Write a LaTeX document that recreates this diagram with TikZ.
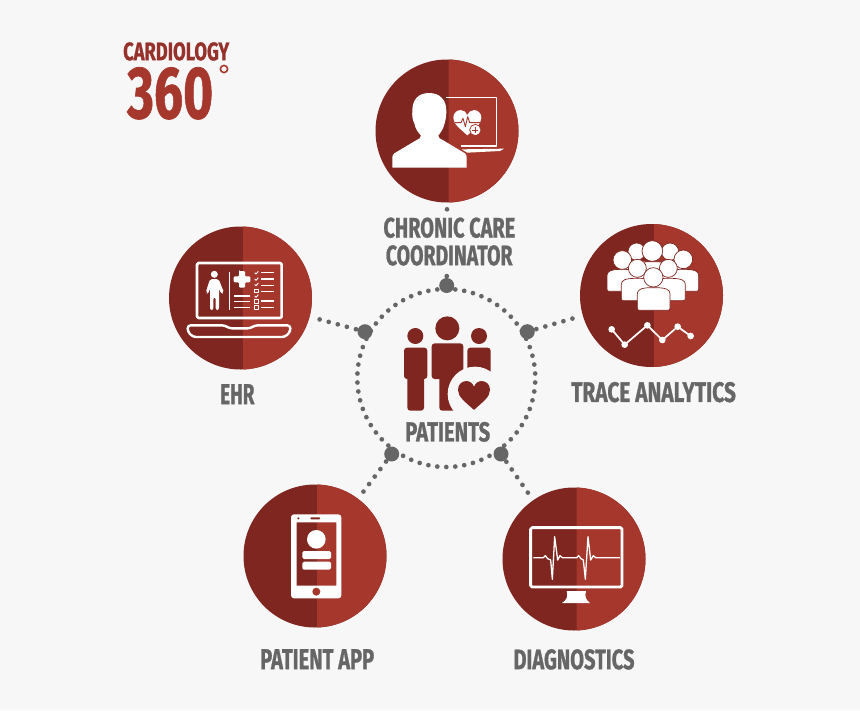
\documentclass[tikz,border=0pt]{standalone}
\usepackage{fontspec}
\usepackage{graphicx}
\usetikzlibrary{calc}
\setmainfont{Fira Sans}[BoldFeatures={FakeBold=1}]
\definecolor{bg}{HTML}{F7F7F7}
\definecolor{dk}{HTML}{7E261F}
\definecolor{lt}{HTML}{A5372D}
\definecolor{logo}{HTML}{96322B}
\definecolor{gr}{HTML}{666666}
\tikzset{
  lbl/.style={inner sep=0pt,anchor=north west,text=gr},
  bigdot/.style={circle,fill=gr,inner sep=0pt,minimum size=15pt},
  smalldot/.style={circle,fill=gr,inner sep=0pt,minimum size=4.7pt},
  conn/.style={draw=gr,line width=4.7pt,line cap=round,dash pattern=on 0pt off 9.4pt},
  disc/.style={circle,fill=dk,inner sep=0pt,minimum size=143pt},
  wl/.style={draw=white,line width=#1,line join=round},
  wl/.default=1.3pt
}
% label: name, x, y, width, height, text
\newcommand{\lab}[7][lbl]{\node[#1] (#2) at (#3,#4) {\resizebox{#5pt}{#6pt}{\bfseries #7}};}
% half-shaded disc: name, cx, cy, split x
\newcommand{\halfdisc}[4]{%
  \node[disc] (#1) at (#2,#3) {};
  \begin{scope}
    \clip (#4,#3-80) rectangle (#2+80,#3+80);
    \fill[lt] (#2,#3) circle (71.5);
  \end{scope}}
% heart: cx, cy, half width, colour
\newcommand{\hrt}[4]{%
  \fill[#4] (#1,#2+#3*.95)
    .. controls (#1-#3*.55,#2+#3*.45) and (#1-#3,#2+#3*.15) .. (#1-#3,#2-#3*.3)
    .. controls (#1-#3,#2-#3*.7) and (#1-#3*.7,#2-#3*.85) .. (#1-#3*.47,#2-#3*.85)
    .. controls (#1-#3*.25,#2-#3*.85) and (#1-#3*.08,#2-#3*.7) .. (#1,#2-#3*.5)
    .. controls (#1+#3*.08,#2-#3*.7) and (#1+#3*.25,#2-#3*.85) .. (#1+#3*.47,#2-#3*.85)
    .. controls (#1+#3*.7,#2-#3*.85) and (#1+#3,#2-#3*.7) .. (#1+#3,#2-#3*.3)
    .. controls (#1+#3,#2+#3*.15) and (#1+#3*.55,#2+#3*.45) .. (#1,#2+#3*.95) -- cycle;}
% crowd person: head x,y,r ; body left,right,top,bottom
\newcommand{\folk}[7]{%
  \filldraw[fill=white,draw=dk,line width=.7pt,rounded corners=2pt]
    (#4,#7) -- (#4,#6+24) .. controls (#4,#6+6) and (#4+12,#6) .. (#1,#6)
    .. controls (#5-12,#6) and (#5,#6+6) .. (#5,#6+24) -- (#5,#7) -- cycle;
  \filldraw[fill=white,draw=dk,line width=.7pt] (#1,#2) circle (#3);}
\begin{document}
\begin{tikzpicture}[x=1pt,y=-1pt]
\useasboundingbox (0,0) rectangle (860,710);
\fill[bg] (0,0) rectangle (860,710);

% ---- discs
\halfdisc{care}{447}{131}{448.7}
\halfdisc{ehr}{240.5}{298}{243}
\halfdisc{trace}{651.5}{295.5}{654}
\halfdisc{app}{315}{556}{317}
\halfdisc{diag}{574}{559}{576.5}

% ---- ring of dots
\coordinate (hub) at (446.3,378);
\foreach \i in {0,...,61}
  \fill[gr] ($(hub)+({-90+\i*5.80645}:89)$) circle (2.35);

% ---- big dots on the ring
\node[bigdot] (dT) at (446.7,285.5) {};
\node[bigdot] (dL) at (365,331.7) {};
\node[bigdot] (dR) at (527.3,331.7) {};
\node[bigdot] (dBL) at (391.7,454) {};
\node[bigdot] (dBR) at (501,454) {};

% ---- connectors
\coordinate (tEnd) at (446.8,272);
\node[smalldot] (tTip) at (447,209.3) {};
\draw[conn] (dT.center) -- (tEnd);
\draw[conn,shorten >=6pt] (dL.center) -- (ehr);
\draw[conn,shorten >=6pt] (dR.center) -- (trace);
\draw[conn,shorten >=4pt] (dBL.center) -- (app);
\draw[conn,shorten >=4pt] (dBR.center) -- (diag);

% ---- labels
\lab{lCare1}{383.3}{217.3}{131.7}{20}{CHRONIC CARE}
\lab{lCare2}{385.7}{245}{126.6}{20}{COORDINATOR}
\lab{lEhr}{220}{384}{34.3}{20}{EHR}
\lab{lTrace}{571}{381.7}{164.7}{20}{TRACE ANALYTICS}
\lab{lApp}{260}{649}{114}{20}{PATIENT APP}
\lab{lDiag}{513.3}{649}{121}{20}{DIAGNOSTICS}
\lab{lPat}{405}{421.7}{85}{19.5}{PATIENTS}
\lab[lbl,text=logo]{lCard}{123}{42}{106}{18}{CARDIOLOGY}
\lab[lbl,text=lt]{lNum}{127}{67}{86}{51}{360}
\draw[lt,line width=1.6pt] (224,69) circle (3.6);

% ---- icon: chronic care coordinator
\begin{scope}[shift={(360,70)},scale=1/3]
  \draw[wl=1.6pt] (258,82) -- (410,82) -- (410,228) -- (302,228);
  \fill[white] (305,238) -- (432,236) -- (420,243) -- (322,248) -- cycle;
  \fill[white] (207,69) .. controls (240,69) and (259,90) .. (259,122)
    .. controls (259,135) and (258,145) .. (254,160)
    .. controls (250,178) and (240,190) .. (235,197)
    .. controls (236,204) and (240,207) .. (248,210)
    -- (315,250) .. controls (319,254) and (320,258) .. (320,262) -- (320,293) -- (97,293) -- (97,262)
    .. controls (97,258) and (98,254) .. (103,250)
    -- (170,210) .. controls (178,207) and (182,204) .. (183,197)
    .. controls (177,190) and (166,178) .. (163,160)
    .. controls (157,150) and (156,135) .. (157,122)
    .. controls (157,90) and (174,69) .. (207,69) -- cycle;
  \hrt{322}{156}{42}{white}
  \draw[lt,line width=.9pt,line join=round] (284,158) -- (303,158) -- (309,145) -- (316,170) -- (323,140) -- (329,158) -- (360,158);
  \filldraw[fill=white,draw=lt,line width=.8pt] (346,180) circle (17);
  \draw[lt,line width=1pt] (346,171) -- (346,189) (337,180) -- (355,180);
\end{scope}

% ---- icon: EHR
\begin{scope}[shift={(160,220)},scale=1/3]
  \draw[wl=2.6pt,rounded corners=1.5pt] (111,129) rectangle (365,294);
  \draw[wl=2.4pt,rounded corners=3pt] (83,316) -- (195,316) -- (207,325) -- (272,325) -- (284,316) -- (391,316) -- (391,335) -- (375,351) -- (99,351) -- (83,335) -- cycle;
  \draw[wl=1pt] (209,155) -- (209,270);
  \fill[white] (163,163) circle (10.5);
  \fill[white,rounded corners=2pt] (150,177) -- (176,177) -- (192,218) -- (184,222) -- (177,205) -- (177,270) -- (167,270) -- (167,232) -- (160,232) -- (160,270) -- (150,270) -- (150,205) -- (144,222) -- (137,218) -- cycle;
  \fill[white,rounded corners=1pt] (237,153) -- (255,153) -- (255,169) -- (271,169) -- (271,187) -- (255,187) -- (255,203) -- (237,203) -- (237,187) -- (221,187) -- (221,169) -- (237,169) -- (237,153) -- cycle;
  \foreach \y in {158,177,196,215,243,262}
    \draw[wl=1.2pt] (303,\y) -- (343,\y);
  \foreach \y in {228,245,262}
    \draw[wl=1.2pt] (221,\y) -- (270,\y);
  \foreach \y in {158,177,193,228}
    \draw[wl=.9pt] (284,\y) -- (288,\y+4) -- (295,\y-4);
  \foreach \y in {212,244,262}
    \draw[wl=.9pt] (284,\y-5) rectangle (295,\y+5);
\end{scope}

% ---- icon: trace analytics
\begin{scope}[shift={(575,220)},scale=1/3]
  \folk{185}{95}{26}{150}{220}{120}{170}
  \folk{285}{95}{26}{250}{320}{120}{170}
  \folk{232}{93}{31}{185}{280}{125}{180}
  \folk{142}{120}{28}{96}{188}{148}{214}
  \folk{325}{118}{28}{278}{371}{148}{214}
  \folk{187}{145}{27}{139}{235}{175}{242}
  \folk{280}{145}{27}{235}{331}{175}{242}
  \folk{235}{172}{29}{187}{285}{203}{271}
  \draw[wl=1.7pt] (110,328) -- (149,374) -- (217,316) -- (262,360) -- (308,320) -- (347,348);
  \foreach \p in {(110,328),(149,374),(217,316),(262,360),(308,320),(347,348)}
    \fill[white] \p circle (10);
\end{scope}

% ---- icon: patients
\begin{scope}[shift={(350,280)},scale=1/3]
  \fill[dk] (196,168) circle (24) (292,145) circle (36) (387,168) circle (24);
  \fill[dk,rounded corners=3pt] (162,203) rectangle (232,297);
  \fill[dk,rounded corners=3pt] (172,285) rectangle (222,392);
  \fill[dk,rounded corners=3pt] (245,190) rectangle (340,297);
  \fill[dk,rounded corners=3pt] (268,285) rectangle (330,392);
  \fill[dk,rounded corners=3pt] (352,203) rectangle (422,300);
  \fill[bg] (375,342) circle (82);
  \hrt{372}{344}{48}{dk}
\end{scope}

% ---- icon: patient app
\begin{scope}[shift={(240,480)},scale=1/3]
  \fill[white,even odd rule] [rounded corners=3pt] (153,103) rectangle (304,355)
     [sharp corners] (170,127) rectangle (289,317);
  \fill[white] (229,178) circle (28);
  \fill[white,rounded corners=1.5pt] (187,213) rectangle (273,237);
  \fill[white,rounded corners=1.5pt] (187,245) rectangle (273,269);
  \fill[lt] (229,335) circle (12);
  \fill[dk] (175,115) circle (3.5);
  \fill[dk,rounded corners=1pt] (211,112) rectangle (241,118);
\end{scope}

% ---- icon: diagnostics
\begin{scope}[shift={(500,485)},scale=1/3]
  \draw[wl=2.9pt,rounded corners=1.5pt] (92,128) rectangle (366,306);
  \fill[white] (200,318) .. controls (205,335) and (200,345) .. (186,354) -- (270,354) .. controls (258,345) and (253,335) .. (258,318) -- cycle;
  \draw[wl=1.3pt] (100,218) -- (130,218) -- (136,212) -- (143,221) -- (152,225) -- (157,283) -- (164,155) -- (173,225) -- (180,212) -- (187,218) -- (230,218) -- (236,212) -- (243,221) -- (250,225) -- (256,283) -- (264,155) -- (272,225) -- (280,212) -- (287,218) -- (360,218);
\end{scope}
\end{tikzpicture}
\end{document}
